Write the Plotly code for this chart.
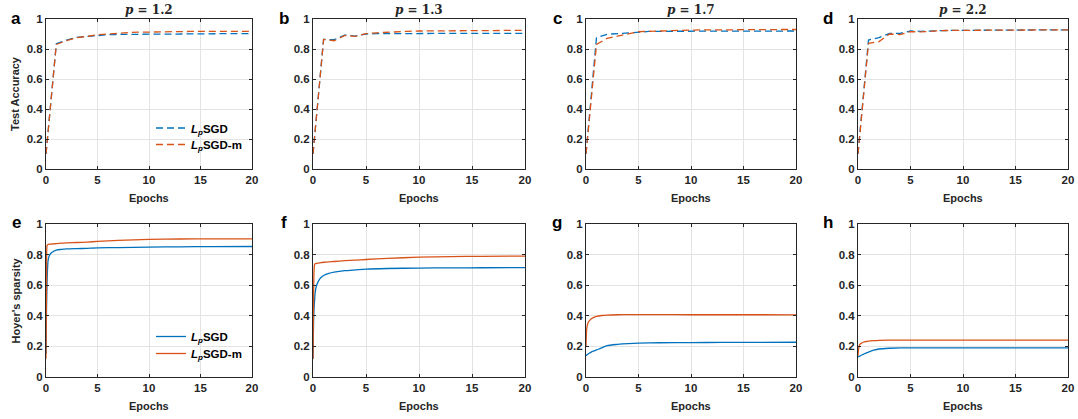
import plotly.graph_objects as go

W, H = 1078, 419

# ---------------- data ----------------
epochs = list(range(21))
titles = ["1.2", "1.3", "1.7", "2.2"]
top_letters = ["a", "b", "c", "d"]
bot_letters = ["e", "f", "g", "h"]

acc_sgd = [
    [0.10, 0.835, 0.86, 0.878, 0.884, 0.892, 0.895, 0.897, 0.898, 0.899, 0.900, 0.900, 0.901, 0.901, 0.901, 0.902, 0.902, 0.902, 0.902, 0.902, 0.902],
    [0.10, 0.864, 0.862, 0.893, 0.886, 0.900, 0.902, 0.903, 0.903, 0.904, 0.904, 0.904, 0.904, 0.904, 0.904, 0.904, 0.904, 0.904, 0.904, 0.904, 0.904],
    [0.10, 0.876, 0.898, 0.904, 0.910, 0.916, 0.917, 0.918, 0.918, 0.919, 0.919, 0.919, 0.920, 0.920, 0.920, 0.920, 0.920, 0.920, 0.920, 0.920, 0.920],
    [0.10, 0.860, 0.876, 0.904, 0.904, 0.920, 0.918, 0.922, 0.923, 0.924, 0.925, 0.925, 0.926, 0.926, 0.926, 0.926, 0.927, 0.927, 0.927, 0.927, 0.927],
]
acc_sgdm = [
    [0.10, 0.830, 0.856, 0.876, 0.884, 0.895, 0.900, 0.906, 0.910, 0.912, 0.914, 0.915, 0.916, 0.916, 0.917, 0.917, 0.917, 0.918, 0.918, 0.918, 0.918],
    [0.10, 0.864, 0.855, 0.890, 0.884, 0.902, 0.908, 0.913, 0.916, 0.918, 0.920, 0.921, 0.922, 0.922, 0.923, 0.923, 0.923, 0.924, 0.924, 0.924, 0.924],
    [0.10, 0.831, 0.871, 0.887, 0.904, 0.915, 0.918, 0.921, 0.923, 0.925, 0.926, 0.927, 0.928, 0.928, 0.929, 0.929, 0.929, 0.930, 0.930, 0.930, 0.930],
    [0.10, 0.838, 0.849, 0.900, 0.896, 0.916, 0.914, 0.920, 0.922, 0.924, 0.925, 0.925, 0.926, 0.926, 0.926, 0.926, 0.927, 0.927, 0.927, 0.927, 0.927],
]

sp_x = [0, 0.05, 0.1, 0.15, 0.2, 0.3, 0.5, 0.75, 1, 1.5, 2, 3, 4, 5, 7, 10, 13, 16, 20]
sp_sgd = [
    [0.15, 0.45, 0.62, 0.71, 0.76, 0.79, 0.81, 0.822, 0.83, 0.834, 0.837, 0.839, 0.841, 0.844, 0.846, 0.849, 0.851, 0.852, 0.853],
    [0.12, 0.35, 0.45, 0.50, 0.55, 0.59, 0.625, 0.65, 0.663, 0.677, 0.685, 0.695, 0.700, 0.705, 0.709, 0.712, 0.713, 0.714, 0.715],
    [0.138, 0.142, 0.145, 0.148, 0.150, 0.155, 0.163, 0.170, 0.177, 0.190, 0.205, 0.213, 0.218, 0.221, 0.224, 0.225, 0.226, 0.226, 0.227],
    [0.130, 0.132, 0.134, 0.136, 0.138, 0.142, 0.148, 0.156, 0.163, 0.175, 0.183, 0.188, 0.190, 0.190, 0.190, 0.190, 0.190, 0.190, 0.190],
]
sp_sgdm = [
    [0.12, 0.60, 0.86, 0.865, 0.866, 0.868, 0.869, 0.870, 0.872, 0.875, 0.877, 0.879, 0.882, 0.886, 0.893, 0.900, 0.902, 0.903, 0.903],
    [0.12, 0.50, 0.70, 0.735, 0.740, 0.742, 0.745, 0.748, 0.750, 0.752, 0.755, 0.760, 0.764, 0.768, 0.775, 0.783, 0.787, 0.789, 0.790],
    [0.20, 0.30, 0.33, 0.345, 0.355, 0.365, 0.380, 0.390, 0.396, 0.402, 0.405, 0.407, 0.408, 0.408, 0.408, 0.407, 0.407, 0.407, 0.406],
    [0.14, 0.18, 0.20, 0.21, 0.215, 0.220, 0.227, 0.232, 0.235, 0.238, 0.240, 0.241, 0.241, 0.241, 0.241, 0.241, 0.241, 0.241, 0.241],
]

x_ticks = [0, 5, 10, 15, 20]
y_ticks = [0, 0.2, 0.4, 0.6, 0.8, 1]
y_tick_text = ["0", "0.2", "0.4", "0.6", "0.8", "1"]
x_label = "Epochs"
y_labels = ["Test Accuracy", "Hoyer's sparsity"]
names = ["<i>L</i><sub><i>p</i></sub>SGD", "<i>L</i><sub><i>p</i></sub>SGD-m"]

# ---------------- style ----------------
BLUE = "#0072BD"
ORANGE = "#D95319"
FONT = "Liberation Sans"
px_left = [46, 313, 586, 858]
px_right = [252, 525, 796, 1068]
row_top = [(19, 169), (224, 377)]
letter_x = [16, 284, 557, 828]
xlabel_y = [198, 406]
legend_rows = [(128, 144.5), (336.5, 353.5)]
DASH = "7px,4px"

fig = go.Figure()


def xd(p):
    return p / W


def yd(p):
    return 1 - p / H


axis_common = dict(
    showline=True, linecolor="#262626", linewidth=1, mirror="ticks",
    ticks="inside", ticklen=3, tickcolor="#262626",
    showgrid=True, gridcolor="#e3e3e3", gridwidth=1,
    zeroline=False, automargin=False,
    tickfont=dict(family=FONT, size=11.5, color="#262626", weight="bold"),
)

annotations = []
legend_ids = [["legend", "legend2"], ["legend3", "legend4"]]
for r in range(2):
    for c in range(4):
        i = r * 4 + c + 1
        xa = "x" if i == 1 else f"x{i}"
        ya = "y" if i == 1 else f"y{i}"
        xk = "xaxis" if i == 1 else f"xaxis{i}"
        yk = "yaxis" if i == 1 else f"yaxis{i}"
        t, b = row_top[r]
        fig.update_layout({
            xk: dict(domain=[xd(px_left[c]), xd(px_right[c])], anchor=ya, range=[0, 20],
                     tickvals=x_ticks, **axis_common),
            yk: dict(domain=[yd(b), yd(t)], anchor=xa, range=[0, 1],
                     tickvals=y_ticks, ticktext=y_tick_text, **axis_common),
        })
        if r == 0:
            fig.add_trace(go.Scatter(x=epochs, y=acc_sgd[c], mode="lines", name=names[0],
                                     line=dict(color=BLUE, width=1.3, dash=DASH),
                                     xaxis=xa, yaxis=ya, showlegend=(c == 0), legend=legend_ids[r][0]))
            fig.add_trace(go.Scatter(x=epochs, y=acc_sgdm[c], mode="lines", name=names[1],
                                     line=dict(color=ORANGE, width=1.3, dash=DASH),
                                     xaxis=xa, yaxis=ya, showlegend=(c == 0), legend=legend_ids[r][1]))
            annotations.append(dict(text=f"<b><i>p</i> = {titles[c]}</b>",
                                    x=(xd(px_left[c]) + xd(px_right[c])) / 2,
                                    y=yd(10), xref="paper", yref="paper", showarrow=False,
                                    xanchor="center", yanchor="middle",
                                    font=dict(family="DejaVu Serif", size=12, color="#262626")))
            letter = top_letters[c]
        else:
            fig.add_trace(go.Scatter(x=sp_x, y=sp_sgd[c], mode="lines", name=names[0],
                                     line=dict(color=BLUE, width=1.3, shape="spline", smoothing=0.6),
                                     xaxis=xa, yaxis=ya, showlegend=(c == 0), legend=legend_ids[r][0]))
            fig.add_trace(go.Scatter(x=sp_x, y=sp_sgdm[c], mode="lines", name=names[1],
                                     line=dict(color=ORANGE, width=1.3, shape="spline", smoothing=0.6),
                                     xaxis=xa, yaxis=ya, showlegend=(c == 0), legend=legend_ids[r][1]))
            letter = bot_letters[c]
        annotations.append(dict(text=f"<b>{letter}</b>", x=xd(letter_x[c]), y=yd(t - 1),
                                xref="paper", yref="paper", showarrow=False,
                                xanchor="center", yanchor="middle",
                                font=dict(family=FONT, size=17, color="black")))
        annotations.append(dict(text=f"<b>{x_label}</b>",
                                x=(xd(px_left[c]) + xd(px_right[c])) / 2, y=yd(xlabel_y[r]),
                                xref="paper", yref="paper", showarrow=False,
                                xanchor="center", yanchor="middle",
                                font=dict(family=FONT, size=11, color="#262626")))
    annotations.append(dict(text=f"<b>{y_labels[r]}</b>", x=xd(15),
                            y=yd((row_top[r][0] + row_top[r][1]) / 2),
                            xref="paper", yref="paper", showarrow=False, textangle=-90,
                            xanchor="center", yanchor="middle",
                            font=dict(family=FONT, size=11, color="#262626")))

legend_style = dict(font=dict(family=FONT, size=11.5, color="black", weight="bold"),
                    bgcolor="rgba(0,0,0,0)", borderwidth=0, tracegroupgap=0,
                    xref="paper", yref="paper", xanchor="left", yanchor="middle")
legend_layout = {}
for r in range(2):
    for k in range(2):
        legend_layout[legend_ids[r][k]] = dict(x=xd(151), y=yd(legend_rows[r][k]), **legend_style)

fig.update_layout(
    template="none",
    width=W, height=H,
    margin=dict(l=0, r=0, t=0, b=0, autoexpand=False),
    paper_bgcolor="white", plot_bgcolor="white",
    annotations=annotations,
    hovermode=False,
    **legend_layout,
)

fig.write_html("out.html",
               config={"displayModeBar": False},
               post_script="document.body.style.margin='0';document.body.style.overflow='hidden';")
